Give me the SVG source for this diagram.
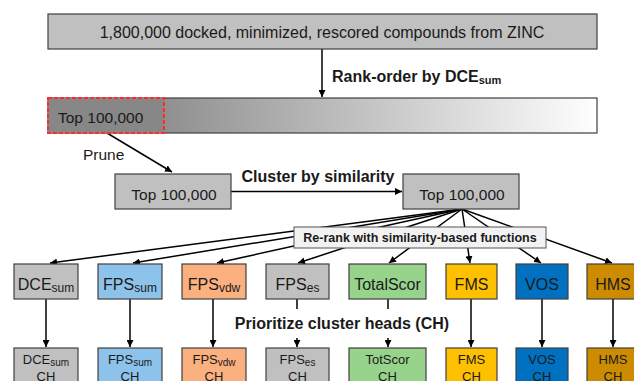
<svg xmlns="http://www.w3.org/2000/svg" width="634" height="381" viewBox="0 0 634 381">
<style>
text{font-family:"Liberation Sans",Arial,sans-serif;fill:#1a1a1a}
.b{font-weight:bold}
.box{stroke:#404040;stroke-width:1.2}
.gray{fill:#c0c0c0}
.blue{fill:#8dc3ea}
.sal{fill:#fbb07f}
.grn{fill:#97d38a}
.gold{fill:#ffc000}
.vos{fill:#0070c0}
.hms{fill:#cc8b00}
.lbl{font-size:16px;text-anchor:middle}
.ch{font-size:13px;text-anchor:middle}
.con line{stroke:#000;stroke-width:1.5;fill:none}
.arr{marker-end:url(#ah)}
</style>
<defs>
<marker id="ah" markerUnits="userSpaceOnUse" markerWidth="8" markerHeight="7" refX="7" refY="3.5" orient="auto">
<path d="M0,0 L7,3.5 L0,7 z" fill="#000"/>
</marker>
<linearGradient id="bar" x1="0" y1="0" x2="1" y2="0">
<stop offset="0" stop-color="#7c7c7c"/>
<stop offset="0.2" stop-color="#8e8e8e"/>
<stop offset="0.97" stop-color="#fafafa"/>
<stop offset="1" stop-color="#ffffff"/>
</linearGradient>
</defs>
<rect width="634" height="381" fill="#fff"/>

<g class="con">
<line class="arr" x1="322" y1="49" x2="322" y2="97"/>
<line class="arr" x1="107" y1="133" x2="172" y2="172"/>
<line class="arr" x1="231" y1="191.5" x2="402" y2="191.5"/>
<line class="arr" x1="462" y1="209" x2="50" y2="263"/>
<line class="arr" x1="462" y1="209" x2="133" y2="263"/>
<line class="arr" x1="462" y1="209" x2="217" y2="263"/>
<line class="arr" x1="462" y1="209" x2="298" y2="263"/>
<line class="arr" x1="462" y1="209" x2="389" y2="263"/>
<line class="arr" x1="462" y1="209" x2="470" y2="263"/>
<line class="arr" x1="462" y1="209" x2="541" y2="263"/>
<line class="arr" x1="462" y1="209" x2="612" y2="263"/>
<line class="arr" x1="46" y1="299" x2="46" y2="347"/>
<line class="arr" x1="130" y1="299" x2="130" y2="347"/>
<line class="arr" x1="213" y1="299" x2="213" y2="347"/>
<line x1="297" y1="299" x2="297" y2="309"/>
<line class="arr" x1="297" y1="338" x2="297" y2="347"/>
<line x1="388" y1="299" x2="388" y2="309"/>
<line class="arr" x1="388" y1="338" x2="388" y2="347"/>
<line class="arr" x1="471" y1="299" x2="471" y2="347"/>
<line class="arr" x1="542" y1="299" x2="542" y2="347"/>
<line class="arr" x1="613" y1="299" x2="613" y2="347"/>
</g>

<g id="all-compounds">
<rect class="box gray" x="48" y="14" width="549" height="35"/>
<text x="322" y="38" font-size="16" text-anchor="middle">1,800,000 docked, minimized, rescored compounds from ZINC</text>
</g>
<text class="b" x="332" y="81.5" font-size="16">Rank-order by DCE<tspan font-size="11" dy="2">sum</tspan></text>

<g id="ranked-bar">
<rect class="box" x="48" y="98" width="549" height="35" fill="url(#bar)"/>
<rect x="48" y="98" width="116" height="35" fill="#878787" stroke="#ff2a2a" stroke-width="2" stroke-dasharray="4,2"/>
<text x="58" y="122.5" font-size="15.5">Top 100,000</text>
</g>
<text x="83" y="160" font-size="15.5">Prune</text>

<g id="top-pruned">
<rect class="box gray" x="115" y="174" width="116" height="35"/>
<text x="174" y="199.5" font-size="15.5" text-anchor="middle">Top 100,000</text>
</g>
<text class="b" x="318" y="182" font-size="16" text-anchor="middle">Cluster by similarity</text>

<g id="top-clustered">
<rect class="box gray" x="403" y="174" width="116" height="35"/>
<text x="462" y="199.5" font-size="15.5" text-anchor="middle">Top 100,000</text>
</g>

<g id="rerank">
<rect x="294" y="227" width="252" height="21" fill="#f2f2f2" stroke="#555" stroke-width="1"/>
<text class="b" x="420" y="242" font-size="12.5" text-anchor="middle">Re-rank with similarity-based functions</text>
</g>

<g id="dce"><rect class="box gray" x="14" y="264" width="64" height="35"/><text class="lbl" x="46" y="290">DCE<tspan font-size="12" dy="2">sum</tspan></text></g>
<g id="fpssum"><rect class="box blue" x="98" y="264" width="64" height="35"/><text class="lbl" x="130" y="290">FPS<tspan font-size="12" dy="2">sum</tspan></text></g>
<g id="fpsvdw"><rect class="box sal" x="182" y="264" width="64" height="35"/><text class="lbl" x="214" y="290">FPS<tspan font-size="12" dy="2">vdw</tspan></text></g>
<g id="fpses"><rect class="box gray" x="266" y="264" width="63" height="35"/><text class="lbl" x="297.5" y="290">FPS<tspan font-size="12" dy="2">es</tspan></text></g>
<g id="totalscor"><rect class="box grn" x="349" y="264" width="77" height="35"/><text class="lbl" x="387.5" y="290">TotalScor</text></g>
<g id="fms"><rect class="box gold" x="446" y="264" width="51" height="35"/><text class="lbl" x="471.5" y="290">FMS</text></g>
<g id="vos"><rect class="box vos" x="516" y="264" width="52" height="35"/><text class="lbl" x="542" y="290">VOS</text></g>
<g id="hms"><rect class="box hms" x="587" y="264" width="52" height="35"/><text class="lbl" x="613" y="290">HMS</text></g>

<text class="b" x="342" y="329" font-size="16" text-anchor="middle">Prioritize cluster heads (CH)</text>

<g id="dce-ch"><rect class="box gray" x="14" y="348" width="64" height="40"/><text class="ch" x="46" y="364">DCE<tspan font-size="10" dy="1.5">sum</tspan></text><text class="ch" x="46" y="380.5">CH</text></g>
<g id="fpssum-ch"><rect class="box blue" x="98" y="348" width="64" height="40"/><text class="ch" x="130" y="364">FPS<tspan font-size="10" dy="1.5">sum</tspan></text><text class="ch" x="130" y="380.5">CH</text></g>
<g id="fpsvdw-ch"><rect class="box sal" x="182" y="348" width="64" height="40"/><text class="ch" x="214" y="364">FPS<tspan font-size="10" dy="1.5">vdw</tspan></text><text class="ch" x="214" y="380.5">CH</text></g>
<g id="fpses-ch"><rect class="box gray" x="266" y="348" width="63" height="40"/><text class="ch" x="297.5" y="364">FPS<tspan font-size="10" dy="1.5">es</tspan></text><text class="ch" x="297.5" y="380.5">CH</text></g>
<g id="totscor-ch"><rect class="box grn" x="349" y="348" width="77" height="40"/><text class="ch" x="387.5" y="364">TotScor</text><text class="ch" x="387.5" y="380.5">CH</text></g>
<g id="fms-ch"><rect class="box gold" x="446" y="348" width="51" height="40"/><text class="ch" x="471.5" y="364">FMS</text><text class="ch" x="471.5" y="380.5">CH</text></g>
<g id="vos-ch"><rect class="box vos" x="516" y="348" width="52" height="40"/><text class="ch" x="542" y="364">VOS</text><text class="ch" x="542" y="380.5">CH</text></g>
<g id="hms-ch"><rect class="box hms" x="587" y="348" width="52" height="40"/><text class="ch" x="613" y="364">HMS</text><text class="ch" x="613" y="380.5">CH</text></g>
</svg>
